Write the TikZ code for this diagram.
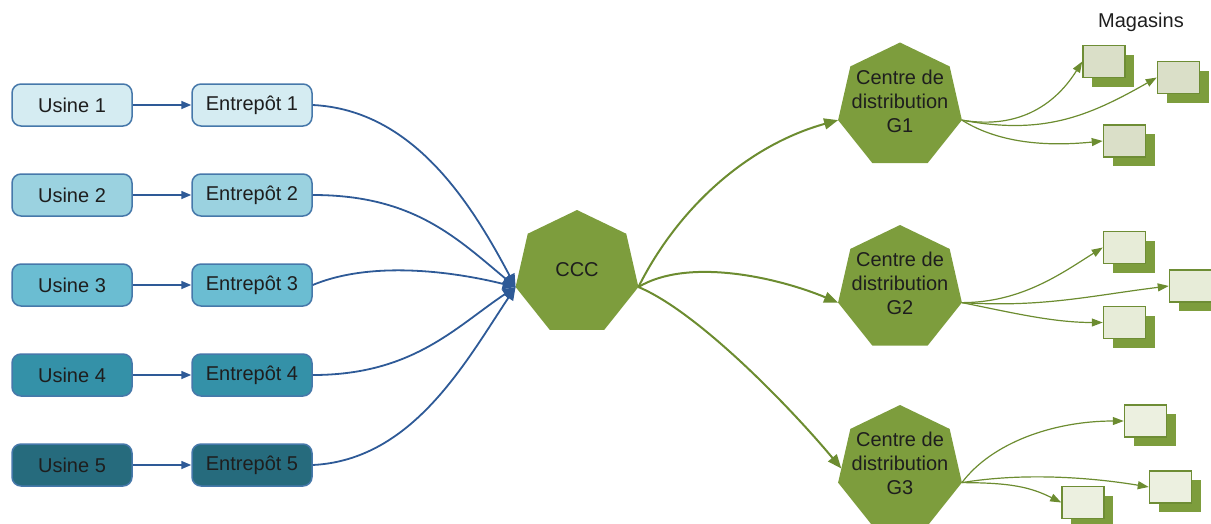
\documentclass[tikz,border=0pt]{standalone}
\usepackage{fontspec}
\setmainfont{Liberation Sans}
\usetikzlibrary{arrows.meta,shapes.geometric,shadows}
\definecolor{bline}{RGB}{46,90,151}
\definecolor{bborder}{RGB}{70,120,170}
\definecolor{uA}{RGB}{213,236,242}
\definecolor{uB}{RGB}{155,210,224}
\definecolor{uC}{RGB}{107,189,210}
\definecolor{uD}{RGB}{52,145,168}
\definecolor{uE}{RGB}{38,107,125}
\definecolor{hgreen}{RGB}{125,157,61}
\definecolor{gline}{RGB}{108,140,48}
\definecolor{sborder}{RGB}{110,141,53}
\definecolor{sA}{RGB}{218,223,200}
\definecolor{sB}{RGB}{231,236,216}
\definecolor{sC}{RGB}{236,240,224}
\definecolor{txt}{RGB}{30,30,30}
\begin{document}
\begin{tikzpicture}[x=1pt,y=-1pt,
  font=\fontsize{20}{24}\selectfont, text=txt,
  box/.style={draw=bborder, line width=1.5pt, rounded corners=9pt, minimum width=120pt, minimum height=42pt, inner sep=0pt},
  hept/.style={regular polygon, regular polygon sides=7, minimum size=127pt, inner sep=0pt, outer sep=0pt, fill=hgreen, draw=none},
  htext/.style={align=center, inner sep=0pt},
  store/.style={draw=sborder, line width=1.5pt, minimum width=42pt, minimum height=32pt, inner sep=0pt,
    drop shadow={shadow xshift=9pt, shadow yshift=-9pt, fill=hgreen, opacity=1}},
  barrow/.style={draw=bline, line width=1.8pt, -{Triangle[length=13pt,width=11pt]}},
  sbarrow/.style={draw=bline, line width=1.5pt, -{Triangle[length=10pt,width=8pt]}},
  garrow/.style={draw=gline, line width=2pt, -{Triangle[length=14pt,width=11pt]}},
  sgarrow/.style={draw=gline, line width=1.2pt, -{Triangle[length=11pt,width=8pt]}}
]
\useasboundingbox (0,0) rectangle (1211,523);

% factories and warehouses
\node[box, fill=uA] (u1) at (72,105) {Usine 1};
\node[box, fill=uB] (u2) at (72,195) {Usine 2};
\node[box, fill=uC] (u3) at (72,285) {Usine 3};
\node[box, fill=uD] (u4) at (72,375) {Usine 4};
\node[box, fill=uE] (u5) at (72,465) {Usine 5};
\node[box, fill=uA] (e1) at (252,105) {Entrepôt 1};
\node[box, fill=uB] (e2) at (252,195) {Entrepôt 2};
\node[box, fill=uC] (e3) at (252,285) {Entrepôt 3};
\node[box, fill=uD] (e4) at (252,375) {Entrepôt 4};
\node[box, fill=uE] (e5) at (252,465) {Entrepôt 5};
\foreach \i in {1,...,5} \draw[sbarrow] (u\i.east) -- (e\i.west);

% CCC
\node[hept, minimum size=126pt] (ccc) at (577,273) {};
\node[htext, yshift=3pt] (ccct) at (ccc) {CCC};

% distribution centres
\node[hept] (g1) at (900,106) {};
\node[hept] (g2) at (900,288.5) {};
\node[hept] (g3) at (900,468.5) {};
\node[htext, yshift=5pt] (g1t) at (g1) {Centre de\\distribution\\G1};
\node[htext, yshift=5pt] (g2t) at (g2) {Centre de\\distribution\\G2};
\node[htext, yshift=5pt] (g3t) at (g3) {Centre de\\distribution\\G3};

% blue curves to CCC
\draw[barrow] (e1.east) .. controls +(100,5) and +(-45,-85) .. (ccc.corner 3);
\draw[barrow] (e2.east) .. controls +(100,0) and +(-60,-50) .. (ccc.corner 3);
\draw[barrow] (e3.east) .. controls +(60,-25) and +(-60,-15) .. (ccc.corner 3);
\draw[barrow] (e4.east) .. controls +(100,0) and +(-60,40) .. (ccc.corner 3);
\draw[barrow] (e5.east) .. controls +(100,-5) and +(-50,75) .. (ccc.corner 3);

% green curves to centres
\draw[garrow] (ccc.corner 6) .. controls +(40,-80) and +(-90,25) .. (g1.corner 3);
\draw[garrow] (ccc.corner 6) .. controls +(50,-30) and +(-60,-25) .. (g2.corner 3);
\draw[garrow] (ccc.corner 6) .. controls +(60,25) and +(-50,-60) .. (g3.west);

% stores
\node (mag) at (1141,22) {Magasins};
\node[store, fill=sA] (s11) at (1104,61.5) {};
\node[store, fill=sA] (s12) at (1178.5,77.5) {};
\node[store, fill=sA] (s13) at (1124.5,141) {};
\node[store, fill=sB] (s21) at (1124.5,247.5) {};
\node[store, fill=sB] (s22) at (1190.5,286) {};
\node[store, fill=sB] (s23) at (1124.5,322.5) {};
\node[store, fill=sC] (s31) at (1145.5,421) {};
\node[store, fill=sC] (s32) at (1170.5,487) {};
\node[store, fill=sC] (s33) at (1083,502.5) {};

\draw[sgarrow] (g1.corner 6) .. controls +(60,10) and +(-25,40) .. (s11.west);
\draw[sgarrow] (g1.corner 6) .. controls +(80,15) and +(-70,40) .. (s12.west);
\draw[sgarrow] (g1.corner 6) .. controls +(40,25) and +(-50,5) .. (s13.west);
\draw[sgarrow] (g2.corner 6) .. controls +(60,0) and +(-40,25) .. (s21.west);
\draw[sgarrow] (g2.corner 6) .. controls +(80,5) and +(-80,10) .. (s22.west);
\draw[sgarrow] (g2.corner 6) .. controls +(50,10) and +(-50,0) .. (s23.west);
\draw[sgarrow] (g3.corner 6) .. controls +(30,-40) and +(-70,0) .. (s31.west);
\draw[sgarrow] (g3.corner 6) .. controls +(60,-10) and +(-60,-10) .. (s32.west);
\draw[sgarrow] (g3.corner 6) .. controls +(50,0) and +(-30,-15) .. (s33.west);
\end{tikzpicture}
\end{document}
